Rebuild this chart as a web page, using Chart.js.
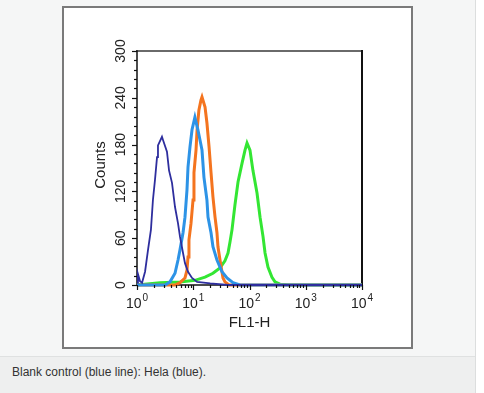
<!DOCTYPE html>
<html>
<head>
<meta charset="utf-8">
<script src="https://cdn.jsdelivr.net/npm/chart.js@4/dist/chart.umd.min.js"></script>
<style>
  body { margin: 0; background: #fff; font-family: "Liberation Sans", Arial, sans-serif; }
  .page { position: absolute; left: 0; top: 0; width: 475px; height: 393px; background: #f5f6f6; border-right: 1px solid #dcdede; }
  .box { position: absolute; left: 62px; top: 6px; width: 347px; height: 339px; background: #fff; border: 2px solid #7a7a7a; }
  .chart-wrap { position: absolute; left: 0; top: 0; width: 347px; height: 339px; }
  .caption { position: absolute; left: 0; top: 356px; width: 475px; height: 37px; background: #eeefef; border-top: 1px solid #dfe1e1;
             font-size: 12px; color: #333; line-height: 30px; padding-left: 12px; box-sizing: border-box; }
</style>
</head>
<body>
<div class="page">
  <div class="box"><div class="chart-wrap"><canvas id="histChart"></canvas></div></div>
  <div class="caption">Blank control (blue line): Hela (blue).</div>
</div>
<script>
// FL1-H histogram (intensity, counts)

const blankX = [1, 1.04, 1.13, 1.23, 1.39, 1.57, 1.77, 1.92, 2.09, 2.27, 2.36, 2.78, 2.90, 3.41, 3.71, 4.19, 4.74, 5.36, 5.81, 6.58, 7.13, 8.07, 9.51, 11.7, 20, 41.7, 10000];
const blankY = [3, 14, 5, 3, 17, 45, 71, 109, 135, 164, 179, 190, 186, 171, 147, 131, 100, 79, 62, 41, 28, 17, 9, 4, 2, 0, 0];

const helaAX = [1, 3.16, 3.86, 4.74, 5.36, 5.81, 6.58, 7.13, 7.74, 8.07, 8.75, 9.51, 10.7, 12.1, 14.3, 15.5, 17.5, 18.3, 20.7, 22.4, 26.4, 32.4, 39.8, 50.9, 67.6, 10000];
const helaAY = [0, 0, 4, 15, 32, 45, 67, 87, 122, 151, 177, 199, 215, 199, 173, 138, 109, 87, 67, 49, 32, 17, 9, 3, 0, 0];

const helaBX = [1, 4.74, 5.81, 7.13, 7.74, 8.07, 8.39, 9.12, 9.91, 10.3, 11.2, 11.7, 12.6, 13.7, 14.3, 16.2, 17.5, 19.1, 20.7, 22.4, 24.4, 26.4, 27.5, 29.9, 32.4, 33.8, 36.6, 43.3, 10000];
const helaBY = [0, 0, 3, 9, 19, 36, 58, 79, 109, 144, 173, 199, 224, 237, 241, 228, 208, 177, 144, 113, 87, 67, 49, 32, 17, 9, 4, 0, 0];

const helaCX = [1, 2.56, 5.81, 10.7, 16.2, 22.4, 29.9, 36.6, 41.5, 45.0, 48.9, 55.2, 62.5, 73.6, 83.2, 90.4, 102, 115, 136, 154, 174, 189, 213, 251, 284, 348, 525, 10000];
const helaCY = [0, 3, 4, 6, 10, 15, 22, 31, 41, 55, 71, 103, 132, 156, 173, 182, 173, 147, 118, 87, 62, 41, 23, 10, 4, 1, 0, 0];

const yTickLabels = [0, 60, 120, 180, 240, 300];
const yMinorStep = 12;
const xTickExponents = [0, 1, 2, 3, 4];

const toPoints = (xs, ys) => xs.map((v, i) => ({ x: v, y: ys[i] }));

const textColor = '#222';
const font = size => size + 'px "Liberation Sans", Arial, sans-serif';

const axisDecor = {
  id: 'axisDecor',
  beforeDatasetsDraw(chart) {
    const { ctx, chartArea: a } = chart;
    ctx.save();
    ctx.lineCap = 'square';
    ctx.strokeStyle = '#6a6a6a'; ctx.lineWidth = 2;
    ctx.beginPath(); ctx.moveTo(a.left, a.top); ctx.lineTo(a.right, a.top); ctx.stroke();
    ctx.strokeStyle = '#111'; ctx.lineWidth = 2;
    ctx.beginPath(); ctx.moveTo(a.right, a.top); ctx.lineTo(a.right, a.bottom); ctx.stroke();
    ctx.lineWidth = 1.5;
    ctx.beginPath(); ctx.moveTo(a.left, a.top); ctx.lineTo(a.left, a.bottom); ctx.lineTo(a.right, a.bottom); ctx.stroke();
    ctx.restore();
  },
  afterDraw(chart) {
    const { ctx, chartArea: a, scales: { x, y } } = chart;
    ctx.save();
    ctx.strokeStyle = '#111';
    ctx.lineWidth = 1.2;
    // y ticks
    for (let v = 0; v <= 300; v += yMinorStep) {
      const py = Math.round(y.getPixelForValue(v)) + 0.5;
      const len = v % 60 === 0 ? 5 : 3;
      ctx.beginPath(); ctx.moveTo(a.left - len, py); ctx.lineTo(a.left, py); ctx.stroke();
    }
    // x ticks (decades + minor)
    xTickExponents.forEach(e => {
      const px = Math.round(x.getPixelForValue(10 ** e)) + 0.5;
      ctx.beginPath(); ctx.moveTo(px, a.bottom); ctx.lineTo(px, a.bottom + 5); ctx.stroke();
      if (e < 4) {
        for (let m = 2; m <= 9; m++) {
          const pm = Math.round(x.getPixelForValue(m * 10 ** e)) + 0.5;
          ctx.beginPath(); ctx.moveTo(pm, a.bottom); ctx.lineTo(pm, a.bottom + 3); ctx.stroke();
        }
      }
    });

    ctx.fillStyle = textColor;
    // y labels, rotated
    ctx.font = font(14);
    ctx.textAlign = 'center';
    ctx.textBaseline = 'middle';
    yTickLabels.forEach(v => {
      ctx.save();
      ctx.translate(a.left - 16, y.getPixelForValue(v));
      ctx.rotate(-Math.PI / 2);
      ctx.fillText(String(v), 0, 0);
      ctx.restore();
    });
    // y title
    ctx.save();
    ctx.translate(a.left - 36, (a.top + a.bottom) / 2 - 3);
    ctx.rotate(-Math.PI / 2);
    ctx.font = font(15);
    ctx.fillText('Counts', 0, 0);
    ctx.restore();

    // x labels 10^n
    ctx.textAlign = 'left';
    ctx.textBaseline = 'alphabetic';
    xTickExponents.forEach(e => {
      const px = x.getPixelForValue(10 ** e);
      ctx.font = font(14);
      const w1 = ctx.measureText('10').width;
      ctx.font = font(10);
      const w2 = ctx.measureText(String(e)).width;
      const start = px - (w1 + w2 + 1) / 2;
      ctx.font = font(14);
      ctx.fillText('10', start, a.bottom + 23);
      ctx.font = font(10);
      ctx.fillText(String(e), start + w1 + 1, a.bottom + 16);
    });
    // x title
    ctx.textAlign = 'center';
    ctx.font = font(15);
    ctx.fillText('FL1-H', (a.left + a.right) / 2, a.bottom + 42);
    ctx.restore();
  }
};

const ctx = document.getElementById('histChart').getContext('2d');
new Chart(ctx, {
  type: 'line',
  data: {
    datasets: [
      { label: 'Blank control', data: toPoints(blankX, blankY), borderColor: '#2e2e9e', borderWidth: 1.8 },
      { label: 'Hela A', data: toPoints(helaAX, helaAY), borderColor: '#2d93e6', borderWidth: 3 },
      { label: 'Hela B', data: toPoints(helaBX, helaBY), borderColor: '#f4741f', borderWidth: 3 },
      { label: 'Hela C', data: toPoints(helaCX, helaCY), borderColor: '#33e633', borderWidth: 3 },
    ]
  },
  options: {
    responsive: true, maintainAspectRatio: false,
    animation: false,
    layout: { padding: { top: 43, right: 49, left: 0, bottom: 0 } },
    elements: { point: { radius: 0 }, line: { tension: 0, fill: false, borderJoinStyle: 'miter' } },
    datasets: { line: { clip: false } },
    plugins: { legend: { display: false }, tooltip: { enabled: false } },
    scales: {
      x: {
        type: 'logarithmic', min: 1, max: 10000,
        ticks: { display: false }, grid: { display: false }, border: { display: false },
        afterFit: s => { s.height = 62; }
      },
      y: {
        min: 0, max: 300,
        ticks: { display: false }, grid: { display: false }, border: { display: false },
        afterFit: s => { s.width = 73; }
      }
    }
  },
  plugins: [axisDecor]
});
</script>
</body>
</html>
